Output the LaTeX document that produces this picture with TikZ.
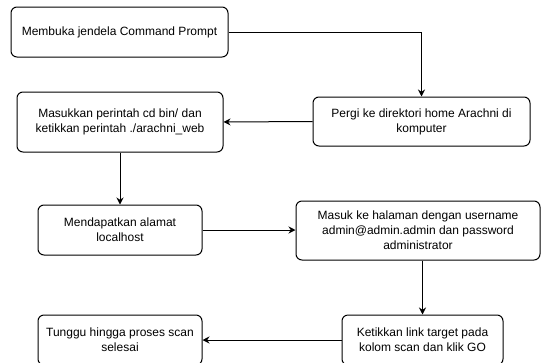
\documentclass[tikz,border=0pt]{standalone}
\usepackage{fontspec}
\setmainfont{Liberation Sans}
\usepackage{tikz}
\usetikzlibrary{arrows.meta}

\begin{document}
\begin{tikzpicture}[x=1pt,y=-1pt,
    langkah/.style={draw, line width=1pt, rounded corners=6pt, align=center,
        font=\fontsize{12}{15}\selectfont, inner sep=0pt},
    panah/.style={draw, line width=1pt, -{Stealth[length=7pt,width=7pt]}}]
            \useasboundingbox (0,0) rectangle (543,362);
            \node[langkah, minimum width=217pt, minimum height=50pt] (buka) at (119.5,32) {Membuka jendela Command Prompt};
            \node[langkah, minimum width=217pt, minimum height=49pt] (pergi) at (421.5,121.5) {Pergi ke direktori home Arachni di\\komputer};
            \node[langkah, minimum width=206pt, minimum height=60pt] (perintah) at (120,122) {Masukkan perintah cd bin/ dan\\ketikkan perintah ./arachni\_web};
            \node[langkah, minimum width=164pt, minimum height=50pt] (alamat) at (120,230) {Mendapatkan alamat\\localhost};
            \node[langkah, minimum width=244pt, minimum height=59pt] (masuk) at (418,230.5) {Masuk ke halaman dengan username\\admin@admin.admin dan password\\administrator};
            \node[langkah, minimum width=161pt, minimum height=50pt] (target) at (422.5,340) {Ketikkan link target pada\\kolom scan dan klik GO};
            \node[langkah, minimum width=164pt, minimum height=50pt] (tunggu) at (120,340) {Tunggu hingga proses scan\\selesai};
            % alur
            \draw[panah] (buka.east) -| (pergi.north);
            \draw[panah] (pergi.west) -- (perintah.east);
            \draw[panah] (perintah.south) -- (alamat.north);
            \draw[panah] (alamat.east) -- (alamat.east -| masuk.west);
            \draw[panah] (masuk.south -| target.north) -- (target.north);
            \draw[panah] (target.west) -- (tunggu.east);
\end{tikzpicture}
\end{document}
